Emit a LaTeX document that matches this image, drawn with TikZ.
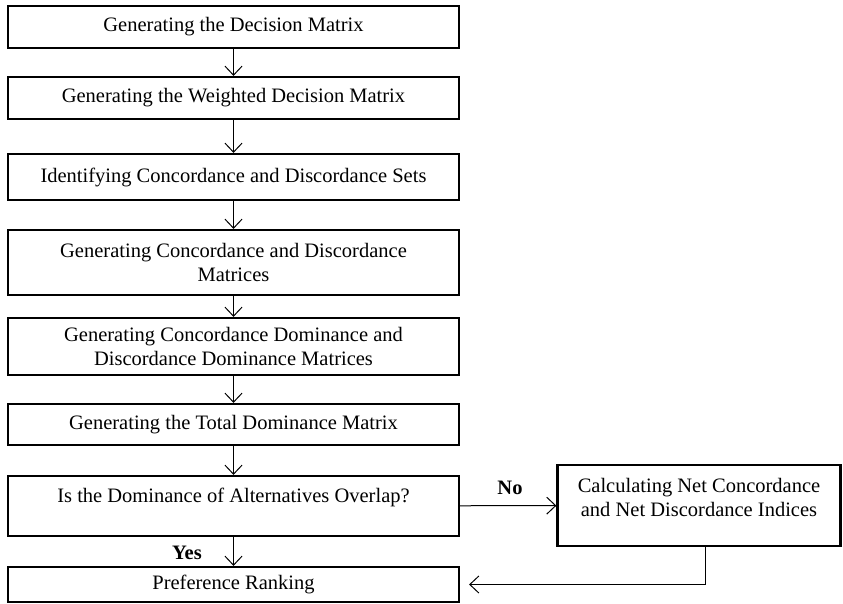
\documentclass[tikz,border=0pt]{standalone}
\usepackage{fontspec}
\setmainfont{Liberation Serif}
\usepackage{tikz}
\usetikzlibrary{positioning, calc, arrows.meta}
\tikzstyle{process}=[draw, line width=2.2pt, minimum width=451pt, align=center, inner sep=0pt, font=\fontsize{20.5}{24}\selectfont]
\tikzstyle{arrow}=[-{Straight Barb[length=9pt, width=17pt]}, line width=1pt]
\tikzstyle{answer}=[font=\bfseries\fontsize{20.5}{24}\selectfont]

\begin{document}
\begin{tikzpicture}[x=1pt, y=-1pt]
    \useasboundingbox (0,0) rectangle (843,604);

    \node [process, minimum height=42pt] (decision) at (233.5,27) {Generating the Decision Matrix};
    \node [process, minimum height=42pt] (weighted) at (233.5,98) {Generating the Weighted Decision Matrix};
    \node [process, minimum height=46pt] (sets) at (233.5,177) {Identifying Concordance and Discordance Sets};
    \node [process, minimum height=65pt] (matrices) at (233.5,262.5) {Generating Concordance and Discordance\\Matrices};
    \node [process, minimum height=57pt] (dominance) at (233.5,346.5) {Generating Concordance Dominance and\\Discordance Dominance Matrices};
    \node [process, minimum height=41pt] (total) at (233.5,424.5) {Generating the Total Dominance Matrix};
    \node [process, minimum height=60pt] (overlap) at (233.5,506) {Is the Dominance of Alternatives Overlap?\\[-3pt]\mbox{}};
    \node [process, minimum height=35pt] (ranking) at (233.5,584.5) {Preference Ranking};

    \node [process, minimum width=283pt, minimum height=81pt] (net) at (699,505.5) {Calculating Net Concordance\\and Net Discordance Indices\\[-8pt]\mbox{}};

    \foreach \a/\b in {decision/weighted, weighted/sets, sets/matrices, matrices/dominance, dominance/total, total/overlap, overlap/ranking}
    \draw [arrow] (\a) -- (\b);

    \draw [arrow] (overlap) -- (net);
    \draw [arrow, shorten >=9pt] ([xshift=6pt]net.south) |- (ranking.east);

    \node [answer] (yes) at (187,553) {Yes};
    \node [answer] (no) at (510,488) {No};

  \end{tikzpicture}
\end{document}
